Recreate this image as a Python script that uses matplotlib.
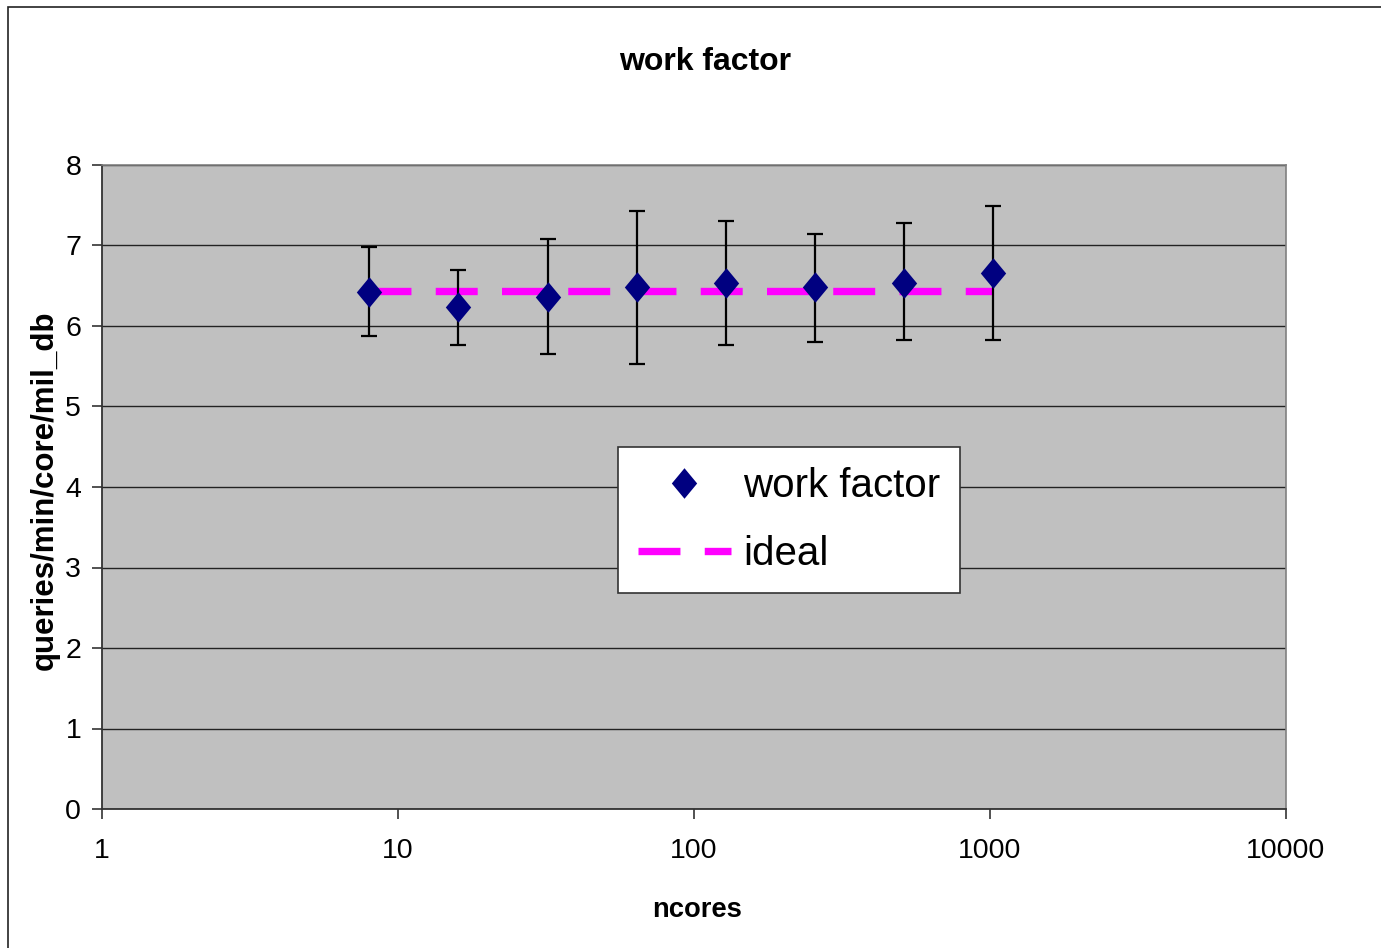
import matplotlib.pyplot as plt
from matplotlib.patches import Rectangle
from matplotlib.ticker import FixedLocator, FixedFormatter, NullLocator

plt.rcParams['font.family'] = ['Liberation Sans', 'DejaVu Sans']

# data
ncores = [8, 16, 32, 64, 128, 256, 512, 1024]
work = [6.42, 6.24, 6.36, 6.48, 6.54, 6.48, 6.54, 6.66]
err_hi = [6.98, 6.69, 7.08, 7.43, 7.31, 7.14, 7.28, 7.49]
err_lo = [5.88, 5.76, 5.65, 5.53, 5.77, 5.80, 5.83, 5.83]
ideal = [6.44] * len(ncores)

xticks = [1, 10, 100, 1000, 10000]
xtick_labels = ['1', '10', '100', '1000', '10000']
yticks = [0, 1, 2, 3, 4, 5, 6, 7, 8]

W, H = 1381, 948
fig = plt.figure(figsize=(W / 100, H / 100), dpi=100)
fig.patch.set_facecolor('white')

# outer chart border (right/bottom fall off the picture)
fig.patches.append(Rectangle((8 / W, 0 - 0.01), 1.0, 1 - 7 / H + 0.01,
                             transform=fig.transFigure, fill=False,
                             edgecolor='#222222', linewidth=1.2))

ax = fig.add_axes([102 / W, 1 - 809 / H, (1286 - 102) / W, (809 - 165) / H])
ax.set_facecolor('#c0c0c0')

ax.set_xscale('log')
ax.set_xlim(1, 10000)
ax.set_ylim(0, 8)
ax.xaxis.set_major_locator(FixedLocator(xticks))
ax.xaxis.set_major_formatter(FixedFormatter(xtick_labels))
ax.xaxis.set_minor_locator(NullLocator())
ax.set_yticks(yticks)

ax.grid(axis='y', color='#222222', linewidth=1.0)
ax.set_axisbelow(True)

lo = [w - l for w, l in zip(work, err_lo)]
hi = [h - w for w, h in zip(work, err_hi)]

diamond = [(0, 1), (0.83, 0), (0, -1), (-0.83, 0), (0, 1)]

ax.plot(ncores, ideal, color='#ff00ff', linewidth=5.3, dashes=(5.7, 3.3),
        label='ideal', zorder=2)
ax.errorbar(ncores, work, yerr=[lo, hi], fmt='none', ecolor='black',
            elinewidth=1.6, capsize=6, capthick=1.6, zorder=3)
ax.plot(ncores, work, linestyle='none', marker=diamond, markersize=22,
        color='#000080', markeredgewidth=0, label='work factor', zorder=4)

for side in ['left', 'bottom']:
    ax.spines[side].set_color('#333333')
    ax.spines[side].set_linewidth(1.3)
for side in ['top', 'right']:
    ax.spines[side].set_color('#808080')
    ax.spines[side].set_linewidth(1.2)

ax.tick_params(axis='both', direction='out', length=7, width=1.2,
               color='#333333', labelsize=20.5)
ax.tick_params(axis='x', pad=14)
ax.tick_params(axis='y', pad=8)

fig.text(705 / W, 1 - 62 / H, 'work factor', ha='center', va='center',
         fontsize=23, fontweight='bold')
fig.text(697 / W, 1 - 910 / H, 'ncores', ha='center', va='center',
         fontsize=19.7, fontweight='bold')
fig.text(45 / W, 1 - 490 / H, 'queries/min/core/mil_db', ha='center',
         va='center', rotation=90, fontsize=22.5, fontweight='bold')

handles, labels = ax.get_legend_handles_labels()
leg = ax.legend(handles[::-1], labels[::-1], loc='upper left',
                bbox_to_anchor=((618 - 102) / (1286 - 102),
                                (809 - 447) / (809 - 165)),
                fontsize=29, frameon=True, fancybox=False, framealpha=1,
                edgecolor='#333333', numpoints=1, handlelength=2.3,
                borderpad=0.5, labelspacing=0.75, handletextpad=0.3,
                borderaxespad=0)
leg.get_frame().set_linewidth(1.2)

fig.savefig('out.png', dpi=100)
